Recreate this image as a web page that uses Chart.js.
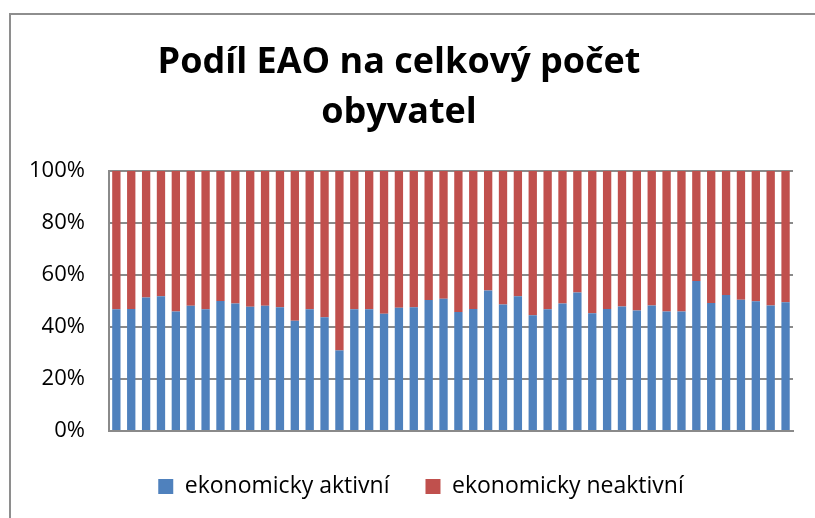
<!DOCTYPE html>
<html>
<head>
<meta charset="utf-8">
<script src="https://cdn.jsdelivr.net/npm/chart.js@4.4.1/dist/chart.umd.min.js"></script>
<style>
html, body { margin: 0; padding: 0; background: #fff; overflow: hidden; }
#frame { position: absolute; left: 9px; top: 13px; width: 900px; height: 600px; border: 2px solid #8e8e8e; }
#wrap { position: absolute; left: 0; top: 0; width: 815px; height: 522px; }
</style>
</head>
<body>
<div id="frame"></div>
<div id="wrap"><canvas id="chart"></canvas></div>
<script>
var categories = ["1", "2", "3", "4", "5", "6", "7", "8", "9", "10",
  "11", "12", "13", "14", "15", "16", "17", "18", "19", "20",
  "21", "22", "23", "24", "25", "26", "27", "28", "29", "30",
  "31", "32", "33", "34", "35", "36", "37", "38", "39", "40",
  "41", "42", "43", "44", "45", "46"];

var aktivni = [46.8, 46.9, 51.4, 51.8, 46.0, 48.2, 46.8, 50.0, 49.1, 47.8,
  48.2, 47.6, 42.4, 46.8, 43.8, 31.0, 46.8, 46.8, 45.1, 47.4,
  47.6, 50.4, 50.9, 45.8, 46.9, 54.1, 48.7, 51.8, 44.5, 46.8,
  49.1, 53.3, 45.3, 46.9, 47.9, 46.4, 48.3, 46.0, 46.0, 57.7,
  49.2, 52.3, 50.5, 49.9, 48.3, 49.5];

var neaktivni = [53.2, 53.1, 48.6, 48.2, 54.0, 51.8, 53.2, 50.0, 50.9, 52.2,
  51.8, 52.4, 57.6, 53.2, 56.2, 69.0, 53.2, 53.2, 54.9, 52.6,
  52.4, 49.6, 49.1, 54.2, 53.1, 45.9, 51.3, 48.2, 55.5, 53.2,
  50.9, 46.7, 54.7, 53.1, 52.1, 53.6, 51.7, 54.0, 54.0, 42.3,
  50.8, 47.7, 49.5, 50.1, 51.7, 50.5];

var yTicks = [0, 20, 40, 60, 80, 100];

var GRID = "#8a8a8a";
var FONT = "'Open Sans', sans-serif";

// Excel's legend sits a bit right of the canvas centre
var legendShift = {
  id: "legendShift",
  afterLayout: function (chart) {
    var lg = chart.legend;
    if (!lg) return;
    lg.left += 22;
    lg.right += 22;
  }
};

new Chart(document.getElementById("chart"), {
  type: "bar",
  data: {
    labels: categories,
    datasets: [
      { label: "ekonomicky aktivní", data: aktivni, backgroundColor: "#4f81bd",
        categoryPercentage: 1, barPercentage: 0.56 },
      { label: "ekonomicky neaktivní", data: neaktivni, backgroundColor: "#c0504d",
        categoryPercentage: 1, barPercentage: 0.56 }
    ]
  },
  plugins: [legendShift],
  options: {
    responsive: true,
    maintainAspectRatio: false,
    animation: false,
    layout: { padding: { left: 5, right: 22, top: 38, bottom: 14 } },
    scales: {
      x: {
        stacked: true,
        ticks: { display: false },
        grid: { display: false },
        border: { color: GRID, width: 2 }
      },
      y: {
        stacked: true,
        min: 0,
        max: 100,
        afterBuildTicks: function (axis) {
          axis.ticks = yTicks.map(function (v) { return { value: v }; });
        },
        ticks: {
          color: "#000",
          padding: 24,
          font: { family: FONT, size: 22 },
          callback: function (v) { return v + "%"; }
        },
        grid: { color: GRID, lineWidth: 2, drawTicks: false },
        border: { color: GRID, width: 2 }
      }
    },
    plugins: {
      title: {
        display: true,
        text: ["Podíl EAO na celkový počet", "obyvatel"],
        color: "#000",
        font: { family: FONT, size: 36, weight: "bold", lineHeight: 1.39 },
        padding: { top: 0, bottom: 33 }
      },
      legend: {
        position: "bottom",
        labels: {
          color: "#000",
          boxWidth: 15,
          boxHeight: 15,
          padding: 36,
          font: { family: FONT, size: 23 }
        }
      },
      tooltip: { enabled: false }
    }
  }
});
</script>
</body>
</html>
